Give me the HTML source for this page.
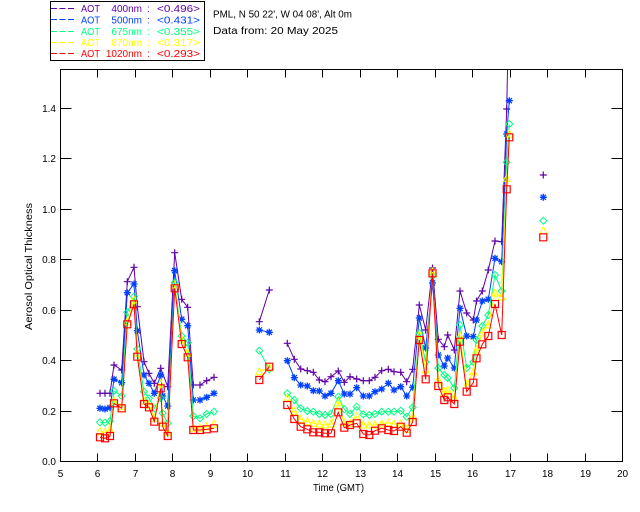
<!DOCTYPE html>
<html>
<head>
<meta charset="utf-8">
<style>
  html, body { margin: 0; padding: 0; background: #ffffff; }
  svg { display: block; }
  text { font-family: "Liberation Sans", "DejaVu Sans", sans-serif; font-size: 10px; fill: #000; }
</style>
</head>
<body>
<svg width="640" height="512" viewBox="0 0 640 512" xmlns="http://www.w3.org/2000/svg">
  <rect x="0" y="0" width="640" height="512" fill="#ffffff"/>
  <defs>
    <clipPath id="plotclip"><rect x="60.5" y="69.5" width="562" height="392"/></clipPath>
    <g id="gp"><path d="M-3.5,0H3.5M0,-3.5V3.5" stroke="#6000a8" stroke-width="1.2" fill="none"/></g>
    <g id="gb"><path d="M-3.5,0H3.5M0,-3.5V3.5M-2.6,-2.6L2.6,2.6M-2.6,2.6L2.6,-2.6" stroke="#0040ff" stroke-width="1.3" fill="none"/></g>
    <g id="gg"><path d="M0,-3.5L3.5,0L0,3.5L-3.5,0Z" stroke="#00ff80" stroke-width="1" fill="none"/></g>
    <g id="gy"><path d="M0,-4L3.5,3L-3.5,3Z" stroke="#ffff00" stroke-width="1" fill="none"/></g>
    <g id="gr"><path d="M-3.5,-3.5H3.5V3.5H-3.5Z" stroke="#ff0000" stroke-width="1.2" fill="none"/></g>
    <marker id="mp" markerUnits="userSpaceOnUse" markerWidth="1" markerHeight="1" refX="0" refY="0" overflow="visible" style="overflow:visible"><use href="#gp"/></marker>
    <marker id="mb" markerUnits="userSpaceOnUse" markerWidth="1" markerHeight="1" refX="0" refY="0" overflow="visible" style="overflow:visible"><use href="#gb"/></marker>
    <marker id="mg" markerUnits="userSpaceOnUse" markerWidth="1" markerHeight="1" refX="0" refY="0" overflow="visible" style="overflow:visible"><use href="#gg"/></marker>
    <marker id="my" markerUnits="userSpaceOnUse" markerWidth="1" markerHeight="1" refX="0" refY="0" overflow="visible" style="overflow:visible"><use href="#gy"/></marker>
    <marker id="mr" markerUnits="userSpaceOnUse" markerWidth="1" markerHeight="1" refX="0" refY="0" overflow="visible" style="overflow:visible"><use href="#gr"/></marker>
  </defs>

  <!-- Legend box -->
  <rect x="50.5" y="1.5" width="154" height="59" fill="none" stroke="#000" stroke-width="1"/>
  <line x1="51" y1="8.5" x2="75" y2="8.5" stroke="#6000a8" stroke-dasharray="6 2.5"/>
  <line x1="51" y1="19.5" x2="75" y2="19.5" stroke="#0040ff" stroke-dasharray="6 2.5"/>
  <line x1="51" y1="31.5" x2="75" y2="31.5" stroke="#00ff80" stroke-dasharray="6 2.5"/>
  <line x1="51" y1="42.5" x2="75" y2="42.5" stroke="#ffff00" stroke-dasharray="6 2.5"/>
  <line x1="51" y1="53.5" x2="75" y2="53.5" stroke="#ff0000" stroke-dasharray="6 2.5"/>

  <text x="81" y="12" textLength="19" lengthAdjust="spacingAndGlyphs" style="fill:#6000a8">AOT</text>
  <text x="142" y="12" text-anchor="end" style="fill:#6000a8">400nm</text>
  <text x="147" y="12" style="fill:#6000a8">:</text>
  <text x="157" y="12" textLength="43" lengthAdjust="spacingAndGlyphs" style="fill:#6000a8">&lt;0.496&gt;</text>

  <text x="81" y="23.5" textLength="19" lengthAdjust="spacingAndGlyphs" style="fill:#0040ff">AOT</text>
  <text x="142" y="23.5" text-anchor="end" style="fill:#0040ff">500nm</text>
  <text x="147" y="23.5" style="fill:#0040ff">:</text>
  <text x="157" y="23.5" textLength="43" lengthAdjust="spacingAndGlyphs" style="fill:#0040ff">&lt;0.431&gt;</text>

  <text x="81" y="35" textLength="19" lengthAdjust="spacingAndGlyphs" style="fill:#00ff80">AOT</text>
  <text x="142" y="35" text-anchor="end" style="fill:#00ff80">675nm</text>
  <text x="147" y="35" style="fill:#00ff80">:</text>
  <text x="157" y="35" textLength="43" lengthAdjust="spacingAndGlyphs" style="fill:#00ff80">&lt;0.355&gt;</text>

  <text x="81" y="46" textLength="19" lengthAdjust="spacingAndGlyphs" style="fill:#ffff00">AOT</text>
  <text x="142" y="46" text-anchor="end" style="fill:#ffff00">870nm</text>
  <text x="147" y="46" style="fill:#ffff00">:</text>
  <text x="157" y="46" textLength="43" lengthAdjust="spacingAndGlyphs" style="fill:#ffff00">&lt;0.317&gt;</text>

  <text x="81" y="57" textLength="19" lengthAdjust="spacingAndGlyphs" style="fill:#ff0000">AOT</text>
  <text x="142" y="57" text-anchor="end" style="fill:#ff0000">1020nm</text>
  <text x="147" y="57" style="fill:#ff0000">:</text>
  <text x="157" y="57" textLength="43" lengthAdjust="spacingAndGlyphs" style="fill:#ff0000">&lt;0.293&gt;</text>

  <!-- Header info -->
  <text x="213" y="17.5" textLength="139" lengthAdjust="spacingAndGlyphs">PML, N 50 22', W 04 08', Alt 0m</text>
  <text x="213" y="34" textLength="125" lengthAdjust="spacingAndGlyphs">Data from: 20 May 2025</text>

  <!-- Plot frame -->
  <rect x="60.5" y="69.5" width="562" height="392" fill="none" stroke="#000" stroke-width="1"/>

  <!-- Ticks -->
  <g stroke="#000" stroke-width="1">
    <path d="M97.5,461.5V453.5M135.5,461.5V453.5M172.5,461.5V453.5M210.5,461.5V453.5M247.5,461.5V453.5M285.5,461.5V453.5M322.5,461.5V453.5M360.5,461.5V453.5M397.5,461.5V453.5M435.5,461.5V453.5M472.5,461.5V453.5M510.5,461.5V453.5M547.5,461.5V453.5M585.5,461.5V453.5"/>
    <path d="M97.5,69.5V77.5M135.5,69.5V77.5M172.5,69.5V77.5M210.5,69.5V77.5M247.5,69.5V77.5M285.5,69.5V77.5M322.5,69.5V77.5M360.5,69.5V77.5M397.5,69.5V77.5M435.5,69.5V77.5M472.5,69.5V77.5M510.5,69.5V77.5M547.5,69.5V77.5M585.5,69.5V77.5"/>
    <path d="M60.5,411.5H71.5M60.5,360.5H71.5M60.5,310.5H71.5M60.5,259.5H71.5M60.5,209.5H71.5M60.5,158.5H71.5M60.5,108.5H71.5"/>
    <path d="M622.5,411.5H611.5M622.5,360.5H611.5M622.5,310.5H611.5M622.5,259.5H611.5M622.5,209.5H611.5M622.5,158.5H611.5M622.5,108.5H611.5"/>
  </g>

  <!-- X tick labels -->
  <g text-anchor="middle">
    <text x="60.5" y="477">5</text>
    <text x="97.5" y="477">6</text>
    <text x="135.5" y="477">7</text>
    <text x="172.5" y="477">8</text>
    <text x="210.5" y="477">9</text>
    <text x="247.5" y="477">10</text>
    <text x="285.5" y="477">11</text>
    <text x="322.5" y="477">12</text>
    <text x="360.5" y="477">13</text>
    <text x="397.5" y="477">14</text>
    <text x="435.5" y="477">15</text>
    <text x="472.5" y="477">16</text>
    <text x="510.5" y="477">17</text>
    <text x="547.5" y="477">18</text>
    <text x="585.5" y="477">19</text>
    <text x="622.5" y="477">20</text>
  </g>

  <!-- Y tick labels -->
  <g text-anchor="end">
    <text x="56" y="465">0.0</text>
    <text x="56" y="415">0.2</text>
    <text x="56" y="364">0.4</text>
    <text x="56" y="314">0.6</text>
    <text x="56" y="263">0.8</text>
    <text x="56" y="213">1.0</text>
    <text x="56" y="162">1.2</text>
    <text x="56" y="112">1.4</text>
  </g>

  <!-- Axis titles -->
  <text x="313" y="491" textLength="51" lengthAdjust="spacingAndGlyphs">Time (GMT)</text>
  <text transform="translate(32,330) rotate(-90)" textLength="127" lengthAdjust="spacingAndGlyphs">Aerosol Optical Thickness</text>

  <!-- Series -->
  <g clip-path="url(#plotclip)" fill="none" stroke-width="1">
    <g stroke="#6000a8" marker-start="url(#mp)" marker-mid="url(#mp)" marker-end="url(#mp)">
      <polyline points="100,393.3 105,393.3 110,393.3 114,365 121.7,370 127.3,281.7 134,267.3 137.3,306.7 144,361.7 149,373.3 154.3,383.3 160.7,368.3 167.7,386.7 174.7,252.7 181.7,299.3 187.7,307.3 193.3,385 200,385 206.7,380.7 214,377.3"/>
      <polyline points="259.3,321.7 269.3,290"/>
      <polyline points="287.3,343.3 294.3,359.3 300.7,369 307.3,370.7 313.3,372.3 319.3,380 325,381.7 331,376.7 338.3,371 344.3,382.3 350,376.7 356.7,379 363.3,380.7 369.3,380.7 375,377.3 381.7,370.7 388.3,369.3 394,371.7 400.7,372.3 406.7,381.7 412.7,369.3 419.3,305 425.7,330 432.5,268 438.3,339.3 444.3,346.7 447.7,335 454.3,350 460,291 466.7,313 473.3,320 476.5,301 482.3,291 488.3,270 495,241 501.7,241.7 506.7,109 510,-50"/>
    </g>
    <g stroke="#0040ff" marker-start="url(#mb)" marker-mid="url(#mb)" marker-end="url(#mb)">
      <polyline points="100,408.3 105,409 110,407.7 114,379.3 121.7,382.7 127.3,292.7 134,284 137.3,330.7 144,375 149,383.3 154.3,393.3 160.7,375 162.7,396 167.7,406 174.7,270.7 181.7,319.3 187.7,325.7 193.3,400 200,400 206.7,397.3 214,393.3"/>
      <polyline points="259.3,330 269.3,332.3"/>
      <polyline points="287.3,360.7 294.3,377.7 300.7,385 307.3,386 313.3,390.7 319.3,391 325,396 331,393.3 338.3,380.7 344.3,394 350,394 356.7,387.7 363.3,396 369.3,396 375,391.7 381.7,389 388.3,383.3 394,390 400.7,386.7 406.7,396 412.7,387.3 419.3,318 425.7,348 432.5,283 438.3,355 444.3,366 447.7,358 454.3,368 460,308.3 466.7,336 473.3,336.7 476.5,320 482.3,301 488.3,299.3 495,258.3 501.7,261.7 506.7,134 509.3,100.7"/>
    </g>
    <g stroke="#00ff80" marker-start="url(#mg)" marker-mid="url(#mg)" marker-end="url(#mg)">
      <polyline points="100,422.3 105,422.7 110,421 114,391 121.7,396 127.3,312.3 134,296.7 137.3,349 144,391.7 149,398.3 154.3,408.3 160.7,398 162.7,413.3 167.7,423.3 174.7,282.7 181.7,336 187.7,342.7 193.3,416 200,418.3 206.7,414 214,411.7"/>
      <polyline points="259.3,350.7 269.3,369.3"/>
      <polyline points="287.3,393.3 294.3,400 300.7,408.3 307.3,411 313.3,411.7 319.3,414 325,415 331,414 338.3,396.7 344.3,409.3 350,414 356.7,406.7 363.3,414.3 369.3,415 375,414 381.7,411.7 388.3,411.7 394,411.7 400.7,410.7 406.7,416.7 412.7,407.3 419.3,333 425.7,362 432.5,276 438.3,368 444.3,375 447.7,378 454.3,388 460,325 466.7,368 473.3,362 476.5,340 482.3,326 488.3,315 495,275 501.7,291 506.7,162.3 509.3,124"/>
    </g>
    <g stroke="#ffff00" marker-start="url(#my)" marker-mid="url(#my)" marker-end="url(#my)">
      <polyline points="100,431.7 105,432.3 110,430 114,401 121.7,406.7 127.3,321.7 134,300 137.3,353.3 144,401 149,405 154.3,418.3 160.7,384 162.7,423 167.7,432.7 174.7,285 181.7,340 187.7,353.3 193.3,428.3 200,428.3 206.7,426.7 214,424.3"/>
      <polyline points="259.3,371.7 269.3,367.7"/>
      <polyline points="287.3,398.3 294.3,411.7 300.7,419.3 307.3,421.7 313.3,423.3 319.3,424 325,425 331,424 338.3,402.7 344.3,422.7 350,423.3 356.7,416.7 363.3,425 369.3,425 375,425 381.7,424 388.3,422.7 394,424 400.7,424 406.7,429.3 412.7,416.7 419.3,335 425.7,370 432.5,272 438.3,380 444.3,392 447.7,390 454.3,398 460,336 466.7,385 473.3,372 476.5,350 482.3,333 488.3,325 495,293 501.7,297 506.7,178.3 509.3,134"/>
    </g>
    <g stroke="#ff0000" marker-start="url(#mr)" marker-mid="url(#mr)" marker-end="url(#mr)">
      <polyline points="100,437.3 105,438.3 110,436 114,403.3 121.7,408.3 127.3,324.3 134,304.3 137.3,356.7 144,404 149,407.3 154.3,421.7 160.7,388.3 162.7,426.7 167.7,436 174.7,288.3 181.7,344 187.7,357.3 193.3,430 200,430 206.7,429.3 214,428.3"/>
      <polyline points="259.3,380 269.3,366.7"/>
      <polyline points="287.3,405 294.3,419 300.7,426.7 307.3,429.3 313.3,432.3 319.3,432.3 325,433.3 331,433.3 338.3,412.3 344.3,427.7 350,425 356.7,423.3 363.3,434 369.3,435 375,430.7 381.7,428.3 388.3,430 394,431 400.7,426.7 406.7,432.7 412.7,422 419.3,340 425.7,379.3 432.5,273.3 438.3,386 444.3,400 447.7,397.3 454.3,404 460,341.7 466.7,391.7 473.3,382.7 476.5,358.3 482.3,344.3 488.3,336 495,304 501.7,335 506.7,189.3 509.3,137.3"/>
    </g>
    <use href="#gp" x="543.3" y="175"/>
    <use href="#gb" x="543.3" y="197.3"/>
    <use href="#gg" x="543.3" y="220.7"/>
    <use href="#gy" x="543.3" y="230.7"/>
    <use href="#gr" x="543.3" y="237.3"/>
  </g>
</svg>
</body>
</html>
